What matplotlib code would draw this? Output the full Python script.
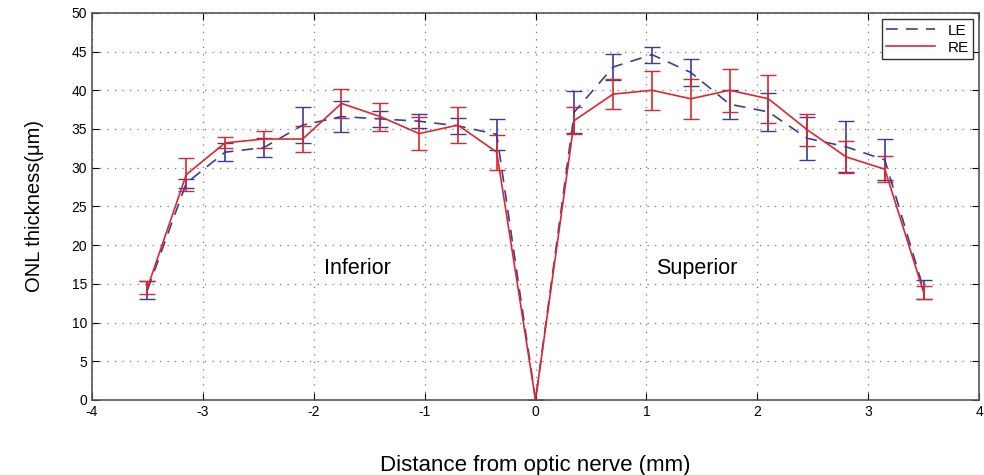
import matplotlib.pyplot as plt
from matplotlib.lines import Line2D
import numpy as np

plt.rcParams['font.family'] = ['Liberation Sans', 'DejaVu Sans']
plt.rcParams['axes.unicode_minus'] = False

# distance from optic nerve (mm)
dist = [-3.5, -3.15, -2.8, -2.45, -2.1, -1.75, -1.4, -1.05, -0.7, -0.35, 0.0,
        0.35, 0.7, 1.05, 1.4, 1.75, 2.1, 2.45, 2.8, 3.15, 3.5]

le_mean = [14.2, 28.0, 32.0, 32.6, 35.5, 36.6, 36.3, 36.0, 35.4, 34.3, 0.0,
           37.2, 43.0, 44.6, 42.3, 38.2, 37.2, 33.8, 32.7, 31.0, 14.3]
le_err = [1.1, 0.6, 1.15, 1.2, 2.3, 2.0, 1.0, 0.9, 1.05, 2.0, 0.0,
          2.7, 1.65, 1.05, 1.7, 1.85, 2.4, 2.75, 3.3, 2.65, 1.2]

re_mean = [14.5, 29.1, 33.2, 33.7, 33.7, 38.3, 36.6, 34.4, 35.5, 32.0, 0.0,
           36.1, 39.5, 40.0, 38.9, 40.0, 38.9, 34.9, 31.4, 29.8, 13.9]
re_err = [0.8, 2.1, 0.7, 1.1, 1.7, 1.9, 1.8, 2.15, 2.35, 2.25, 0.0,
          1.7, 1.95, 2.55, 2.55, 2.8, 3.1, 2.05, 2.05, 1.65, 0.8]

le_color = '#3c3ca0'
re_color = '#e0262c'
le_dash = (0, (7, 5))

fig = plt.figure(figsize=(9.84, 4.75), dpi=100)
ax = fig.add_axes([0.0935, 0.158, 0.9015, 0.815])

ax.errorbar(dist, le_mean, yerr=le_err, color=le_color, linestyle=le_dash,
            linewidth=1.2, elinewidth=1.2, capsize=6)
ax.errorbar(dist, re_mean, yerr=re_err, color=re_color, linestyle='-',
            linewidth=1.2, elinewidth=1.2, capsize=6)

ax.set_xlim(-4, 4)
ax.set_ylim(0, 50)
ax.set_xticks(np.arange(-4, 5, 1))
ax.set_yticks(np.arange(0, 55, 5))
ax.grid(True, linestyle=(0, (1, 5)), color='#777777', linewidth=0.9)
ax.tick_params(direction='in', top=True, right=True, labelsize=10, length=5)
for s in ax.spines.values():
    s.set_color('#555555')
    s.set_linewidth(1.2)

ax.text(-1.61, 17, 'Inferior', fontsize=15.5, ha='center', va='center')
ax.text(1.45, 17, 'Superior', fontsize=15.5, ha='center', va='center')

ax.set_xlabel('Distance from optic nerve (mm)', fontsize=16, labelpad=26)
ax.set_ylabel('ONL thickness(μm)', fontsize=14.5, labelpad=20)

handles = [Line2D([], [], color=le_color, linestyle=le_dash, linewidth=1.2),
           Line2D([], [], color=re_color, linestyle='-', linewidth=1.2)]
leg = ax.legend(handles, ['LE', 'RE'], loc='upper right', fontsize=11,
                fancybox=False, framealpha=1, handlelength=3.2,
                borderaxespad=0.4, borderpad=0.3, labelspacing=0.2)
leg.get_frame().set_edgecolor('#333333')
leg.get_frame().set_linewidth(1.0)

fig.savefig('out.png', dpi=100)
